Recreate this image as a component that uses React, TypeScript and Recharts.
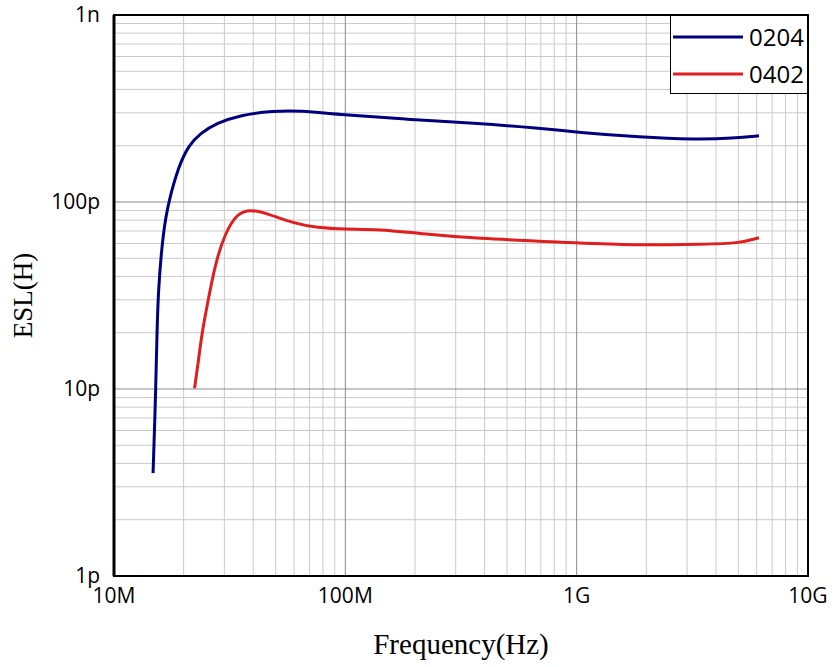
import { LineChart, Line, XAxis, YAxis, CartesianGrid, ReferenceArea, Legend } from 'recharts';

// frequency in Hz, ESL in pH
const freq0204 = [14.75e6, 15.05e6, 15.3e6, 15.5e6, 16.35e6, 17.2e6, 19e6, 20.97e6, 23.6e6, 27.8e6, 35.1e6, 48.9e6, 63.9e6, 95e6, 185e6, 358e6, 698e6, 1e9, 1.89e9, 3.21e9, 4.8e9, 6.14e9];
const esl0204 = [3.55, 7.4, 16.8, 33.8, 70.8, 100, 154.5, 200, 233, 264, 292, 307, 308, 293, 277, 264, 248, 236, 222, 216, 219, 226];

const freq0402 = [22.3e6, 23.2e6, 24e6, 25.2e6, 27.4e6, 30.2e6, 34e6, 38.8e6, 45.8e6, 59.7e6, 75.4e6, 100e6, 141e6, 204e6, 358e6, 1e9, 1.71e9, 3.68e9, 4.96e9, 6.14e9];
const esl0402 = [10.1, 14.3, 19.9, 27.5, 47, 68, 87, 91.4, 87, 76.9, 72.9, 71.5, 71.5, 68, 63.9, 60.6, 58.7, 59.6, 60, 64.4];

const xTicks = [1e7, 1e8, 1e9, 1e10];
const xTickLabels = ['10M', '100M', '1G', '10G'];
const yTicks = [1, 10, 100, 1000];
const yTickLabels = ['1p', '10p', '100p', '1n'];

const series = [
  { name: '0204', color: '#00007f', data: freq0204.map((f, i) => ({ f, v: esl0204[i] })) },
  { name: '0402', color: '#e01e1e', data: freq0402.map((f, i) => ({ f, v: esl0402[i] })) },
];

const minorValues = (decades: number[]) =>
  decades.slice(0, -1).flatMap((d) => [2, 3, 4, 5, 6, 7, 8, 9].map((k) => d * k));

const tickFont = { fontFamily: 'Open Sans', fontSize: 21, fill: '#000' };

const renderLegend = () => (
  <div
    style={{
      width: 138,
      height: 79,
      boxSizing: 'border-box',
      border: '1px solid #000',
      background: '#fff',
      fontFamily: 'Open Sans',
      fontSize: 24,
      paddingTop: 2,
    }}
  >
    {series.map((s) => (
      <div key={s.name} style={{ display: 'flex', alignItems: 'center', height: 37 }}>
        <svg width={76} height={6} style={{ marginLeft: 2 }}>
          <line x1={0} y1={3} x2={70} y2={3} stroke={s.color} strokeWidth={3} />
        </svg>
        <span style={{ lineHeight: 1 }}>{s.name}</span>
      </div>
    ))}
  </div>
);

export default function App() {
  return (
    <div style={{ position: 'absolute', left: 0, top: 0, width: 834, height: 667, background: '#fff' }}>
      <LineChart width={834} height={667} margin={{ top: 15, right: 26, bottom: 0, left: 0 }}>
        <CartesianGrid
          stroke="#cacaca"
          verticalValues={minorValues(xTicks)}
          horizontalValues={minorValues(yTicks)}
        />
        <CartesianGrid stroke="#8a8a8a" verticalValues={xTicks} horizontalValues={yTicks} />
        <XAxis
          dataKey="f"
          type="number"
          scale="log"
          domain={[1e7, 1e10]}
          ticks={xTicks}
          tickFormatter={(v: number) => xTickLabels[xTicks.indexOf(v)]}
          allowDataOverflow
          height={91}
          tickLine={false}
          tickSize={0}
          tickMargin={12}
          axisLine={{ stroke: '#000', strokeWidth: 2 }}
          tick={tickFont}
          label={{
            value: 'Frequency(Hz)',
            position: 'center',
            dy: 22,
            style: { fontFamily: 'Liberation Serif', fontSize: 29, fill: '#000' },
          }}
        />
        <YAxis
          type="number"
          scale="log"
          domain={[1, 1000]}
          ticks={yTicks}
          tickFormatter={(v: number) => yTickLabels[yTicks.indexOf(v)]}
          allowDataOverflow
          width={114}
          tickLine={false}
          tickSize={0}
          tickMargin={14}
          axisLine={{ stroke: '#000', strokeWidth: 3 }}
          tick={tickFont}
          label={{
            value: 'ESL(H)',
            angle: -90,
            position: 'center',
            dx: -35,
            style: { fontFamily: 'Liberation Serif', fontSize: 27, fill: '#000', textAnchor: 'middle' },
          }}
        />
        <ReferenceArea x1={1e7} x2={1e10} y1={1} y2={1000} fill="none" stroke="#000" strokeWidth={2} />
        {series.map((s) => (
          <Line
            key={s.name}
            data={s.data}
            dataKey="v"
            name={s.name}
            type="basis"
            stroke={s.color}
            strokeWidth={3}
            dot={false}
            isAnimationActive={false}
          />
        ))}
        <Legend
          layout="vertical"
          align="center"
          verticalAlign="middle"
          content={renderLegend}
          wrapperStyle={{ left: 670, top: 15, width: 138 }}
        />
      </LineChart>
    </div>
  );
}
